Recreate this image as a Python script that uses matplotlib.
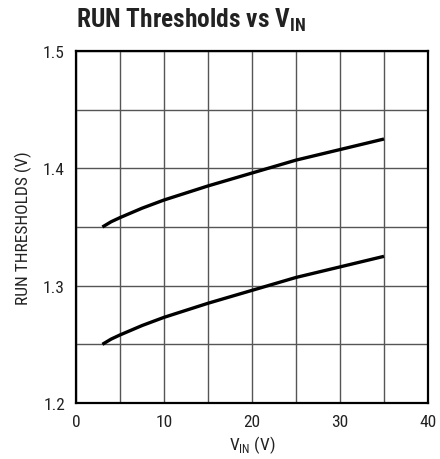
import matplotlib
matplotlib.use("Agg")
import matplotlib.pyplot as plt

plt.rcParams['font.family'] = ['Roboto Condensed', 'Archivo Narrow', 'DejaVu Sans']
plt.rcParams['mathtext.fontset'] = 'custom'
plt.rcParams['mathtext.rm'] = 'Roboto Condensed'
plt.rcParams['mathtext.bf'] = 'Roboto Condensed:bold'

vin = [3, 4, 5, 7.5, 10, 15, 20, 25, 30, 35]
upper = [1.350, 1.3545, 1.358, 1.366, 1.373, 1.385, 1.396, 1.407, 1.416, 1.425]
lower = [1.250, 1.2545, 1.258, 1.266, 1.273, 1.285, 1.296, 1.307, 1.316, 1.325]
xticks = [0, 10, 20, 30, 40]
yticks = [1.2, 1.3, 1.4, 1.5]

fig = plt.figure(figsize=(4.4, 4.6), dpi=100)
ax = fig.add_axes([76/440, 1-404/460, 352/440, 352/460])
ax.plot(vin, upper, color='black', lw=2.4, solid_capstyle='butt')
ax.plot(vin, lower, color='black', lw=2.4, solid_capstyle='butt')
ax.set_xlim(0, 40)
ax.set_ylim(1.2, 1.5)
xg = list(range(0, 41, 5))
ax.set_xticks(xg)
ax.set_xticklabels([str(v) if v in xticks else '' for v in xg])
yg = [1.2 + 0.05*i for i in range(7)]
ax.set_yticks(yg)
ax.set_yticklabels([f"{v:.1f}" if i % 2 == 0 else '' for i, v in enumerate(yg)])
ax.grid(True, color='#555555', lw=1.0)
ax.tick_params(length=0, labelsize=12.5, pad=8, colors='#222222')
for s in ax.spines.values():
    s.set_linewidth(1.6)
ax.set_xlabel(r'V$_{\mathregular{IN}}$ (V)', fontsize=12.5, color='#222222', labelpad=3)
ax.set_ylabel('RUN THRESHOLDS (V)', fontsize=12.5, color='#222222', labelpad=8)
fig.text(76/440, 1-28/460, r'RUN Thresholds vs V$_{\mathbf{IN}}$', fontsize=18.3,
         fontweight='bold', color='#222222', va='baseline', ha='left')
fig.savefig('out.png', dpi=100)
